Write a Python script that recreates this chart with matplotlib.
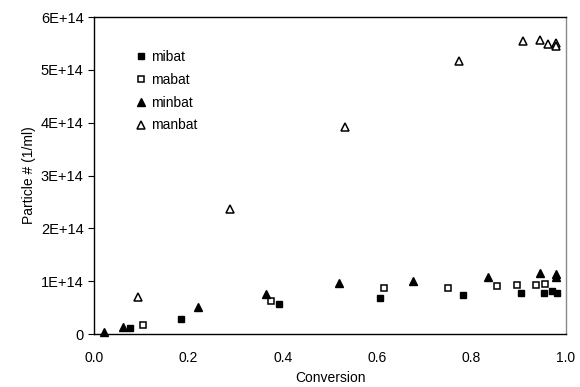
import matplotlib
matplotlib.use("Agg")
import matplotlib.pyplot as plt
from matplotlib.ticker import FixedLocator, FuncFormatter

plt.rcParams['font.family'] = ['Liberation Sans', 'DejaVu Sans']

# conversion vs particle number (1/ml) for the four batch runs
mibat_x = [0.077, 0.185, 0.391, 0.606, 0.782, 0.904, 0.954, 0.971, 0.980]
mibat_y = [0.12e14, 0.28e14, 0.57e14, 0.69e14, 0.74e14, 0.78e14, 0.78e14, 0.81e14, 0.78e14]

mabat_x = [0.103, 0.374, 0.614, 0.751, 0.853, 0.896, 0.936, 0.955]
mabat_y = [0.17e14, 0.62e14, 0.88e14, 0.88e14, 0.91e14, 0.93e14, 0.93e14, 0.94e14]

minbat_x = [0.021, 0.062, 0.221, 0.365, 0.519, 0.676, 0.835, 0.945, 0.978, 0.978]
minbat_y = [0.04e14, 0.14e14, 0.51e14, 0.76e14, 0.96e14, 1.00e14, 1.08e14, 1.15e14, 1.14e14, 1.07e14]

manbat_x = [0.093, 0.288, 0.532, 0.774, 0.908, 0.945, 0.961, 0.979, 0.979]
manbat_y = [0.70e14, 2.36e14, 3.92e14, 5.17e14, 5.54e14, 5.57e14, 5.49e14, 5.51e14, 5.45e14]

x_ticks = [0.0, 0.2, 0.4, 0.6, 0.8, 1.0]
y_ticks = [0, 1e14, 2e14, 3e14, 4e14, 5e14, 6e14]
y_tick_labels = ['0', '1E+14', '2E+14', '3E+14', '4E+14', '5E+14', '6E+14']

fig = plt.figure(figsize=(5.8, 3.87), dpi=100)
ax = fig.add_axes([94/580, 1 - 334/387, (566 - 94)/580, (334 - 17)/387])

ms = 5
ax.plot(mibat_x, mibat_y, 's', color='black', ms=ms, label='mibat', clip_on=False)
ax.plot(mabat_x, mabat_y, 's', mfc='white', mec='black', mew=1.1, ms=ms, label='mabat', clip_on=False)
ax.plot(minbat_x, minbat_y, '^', color='black', ms=ms + 0.5, label='minbat', clip_on=False)
ax.plot(manbat_x, manbat_y, '^', mfc='white', mec='black', mew=1.1, ms=ms + 0.5, label='manbat', clip_on=False)

ax.set_xlim(0, 1.0)
ax.set_ylim(0, 6e14)
ax.xaxis.set_major_locator(FixedLocator(x_ticks))
ax.xaxis.set_major_formatter(FuncFormatter(lambda v, p: f"{v:.1f}"))
ax.yaxis.set_major_locator(FixedLocator(y_ticks))
ax.set_yticklabels(y_tick_labels)

ax.tick_params(axis='x', length=0, pad=12.5, labelsize=10)
ax.tick_params(axis='y', length=4.5, width=0.8, direction='out', pad=3, labelsize=10.5)

for side in ['left', 'bottom', 'top']:
    ax.spines[side].set_color('black')
    ax.spines[side].set_linewidth(1.0)
ax.spines['right'].set_color('#8a8a8a')
ax.spines['right'].set_linewidth(1.0)

ax.set_xlabel('Conversion', fontsize=10)
ax.set_ylabel('Particle # (1/ml)', fontsize=10)
ax.xaxis.set_label_coords(0.5, -0.118)
ax.yaxis.set_label_coords(-0.122, 0.5)

leg = ax.legend(loc='upper left', bbox_to_anchor=(0.079, 0.913), frameon=False,
                fontsize=10, handlelength=0.6, handletextpad=0.45,
                labelspacing=0.63, borderaxespad=0)

fig.savefig('out.png', dpi=100)
